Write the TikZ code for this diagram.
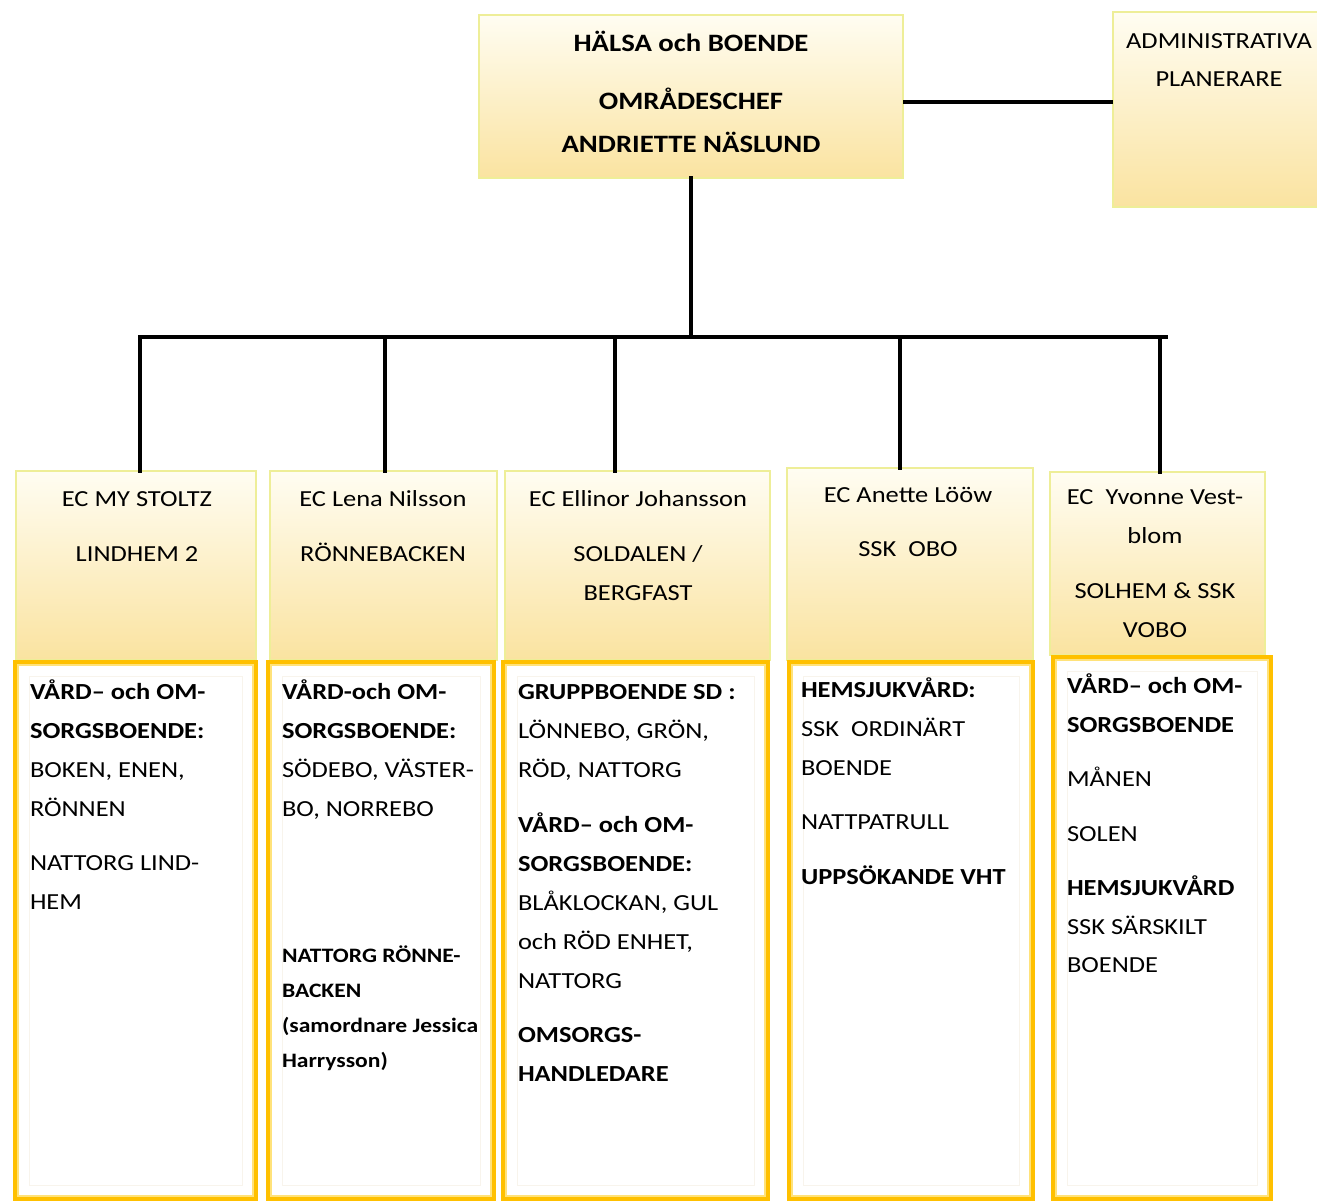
\documentclass[tikz,border=0pt]{standalone}
\usepackage{fontspec}
\setmainfont[FakeStretch=1.15]{Carlito}
\definecolor{hdrtop}{HTML}{FFFDF2}
\definecolor{hdrbot}{HTML}{FAE3A0}
\definecolor{hdredge}{HTML}{EEEE98}
\definecolor{gold}{HTML}{FFC000}
\definecolor{goldin}{HTML}{FFE27A}
\definecolor{faint}{HTML}{F8F4EC}
\newcommand\mybf[1]{\textbf{#1}}
\begin{document}
\begin{tikzpicture}[x=1pt,y=-1pt,
  ybox/.style={rectangle, draw=hdredge, line width=2pt, top color=hdrtop, bottom color=hdrbot, inner sep=0, outer sep=0},
  wbox/.style={rectangle, draw=gold, line width=4pt, fill=white, inner sep=0, outer sep=0},
  inline/.style={draw=goldin, line width=2pt},
  faintline/.style={draw=faint, line width=1pt},
  conn/.style={line width=4.5pt, draw=black, line cap=rect},
  txt/.style={inner sep=0, outer sep=0, font=\fontsize{23}{39}\selectfont},
  ltxt/.style={txt, anchor=north west, align=left},
  ctxt/.style={txt, anchor=north, align=center}]
\useasboundingbox (0,0) rectangle (1317,1203);
\fill[white] (0,0) rectangle (1317,1203);

% top boxes
\node[ybox, minimum width=424, minimum height=163] (top) at (691,96.5) {};
\node[ybox, minimum width=212, minimum height=195] (adm) at (1219,109.5) {};

% header boxes
\node[ybox, minimum width=240, minimum height=189] (h1) at (136,565.5) {};
\node[ybox, minimum width=227, minimum height=189] (h2) at (383.5,565.5) {};
\node[ybox, minimum width=265, minimum height=189] (h3) at (637.5,565.5) {};
\node[ybox, minimum width=246, minimum height=192] (h4) at (910,564) {};
\node[ybox, minimum width=215, minimum height=183] (h5) at (1157.5,563.5) {};

% lower boxes
\node[wbox, minimum width=241, minimum height=537] (l1) at (135.5,930.5) {};
\node[wbox, minimum width=226, minimum height=537] (l2) at (381,930.5) {};
\node[wbox, minimum width=265, minimum height=537] (l3) at (635.5,930.5) {};
\node[wbox, minimum width=244, minimum height=537] (l4) at (911,930.5) {};
\node[wbox, minimum width=218, minimum height=542] (l5) at (1162,928) {};
\foreach \b in {l1,l2,l3,l4,l5}{
  \draw[inline] ([shift={(3,3)}]\b.north west) rectangle ([shift={(-3,-3)}]\b.south east);
  \draw[faintline] ([shift={(14,14)}]\b.north west) rectangle ([shift={(-14,-14)}]\b.south east);
}

% connectors
\coordinate (busL) at (140,337);
\coordinate (busR) at (1166,337);
\coordinate (d1) at (140,337);
\coordinate (d2) at (385,337);
\coordinate (d3) at (615,337);
\coordinate (d4) at (900,337);
\coordinate (d5) at (1160,337);
\draw[conn] (top.south) -- (top.south |- busL);
\draw[conn] (busL) -- (busR);
\draw[conn] (d1) -- (d1 |- h1.north);
\draw[conn] (d2) -- (d2 |- h2.north);
\draw[conn] (d3) -- (d3 |- h3.north);
\draw[conn] (d4) -- (d4 |- h4.north);
\draw[conn] (d5) -- (d5 |- h5.north);
\draw[conn, line cap=butt] ([yshift=-5.5pt]top.east) -- ([yshift=-5.5pt]top.east -| adm.west);

% texts
\node[ctxt, font=\fontsize{25}{43}\selectfont\bfseries] (ttop) at (691,21)
  {\strut HÄLSA och BOENDE\\[15pt] OMRÅDESCHEF\\ ANDRIETTE NÄSLUND};
\node[ctxt, font=\fontsize{23}{38}\selectfont] (tadm) at (1219,22)
  {\strut ADMINISTRATIVA\\ PLANERARE};

\node[ctxt] (th1) at (137,479) {\strut EC MY STOLTZ\\[16pt] LINDHEM 2};
\node[ctxt] (th2) at (383,479) {\strut EC Lena Nilsson\\[16pt] RÖNNEBACKEN};
\node[ctxt] (th3) at (638,479) {\strut EC Ellinor Johansson\\[16pt] SOLDALEN /\\ BERGFAST};
\node[ctxt] (th4) at (908,475) {\strut EC Anette Lööw\\[15pt] SSK\ \ OBO};
\node[ctxt] (th5) at (1155,477) {\strut EC\ \ Yvonne Vest-\\ blom\\[16pt] SOLHEM \& SSK\\ VOBO};

\node[ltxt] (tl1) at (30,672) {\strut\mybf{VÅRD– och OM-}\\ \mybf{SORGSBOENDE:}\\ BOKEN, ENEN,\\ RÖNNEN\\[15pt] NATTORG LIND-\\ HEM};
\node[ltxt] (tl2) at (282,672) {\strut\mybf{VÅRD-och OM-}\\ \mybf{SORGSBOENDE:}\\ SÖDEBO, VÄSTER-\\ BO, NORREBO};
\node[ltxt, font=\fontsize{20.5}{35}\selectfont\bfseries] (tl2b) at (282,938)
  {\strut NATTORG RÖNNE-\\ BACKEN\\ (samordnare Jessica\\ Harrysson)};
\node[ltxt] (tl3) at (518,672) {\strut\mybf{GRUPPBOENDE SD :}\\ LÖNNEBO, GRÖN,\\ RÖD, NATTORG\\[16pt] \mybf{VÅRD– och OM-}\\ \mybf{SORGSBOENDE:}\\ BLÅKLOCKAN, GUL\\ och RÖD ENHET,\\ NATTORG\\[15pt] \mybf{OMSORGS-}\\ \mybf{HANDLEDARE}};
\node[ltxt] (tl4) at (801,670) {\strut\mybf{HEMSJUKVÅRD:}\\ SSK\ \ ORDINÄRT\\ BOENDE\\[15pt] NATTPATRULL\\[16pt] \mybf{UPPSÖKANDE VHT}};
\node[ltxt, font=\fontsize{23}{38.5}\selectfont] (tl5) at (1067,667) {\strut\mybf{VÅRD– och OM-}\\ \mybf{SORGSBOENDE}\\[16pt] MÅNEN\\[16pt] SOLEN\\[16pt] \mybf{HEMSJUKVÅRD}\\ SSK SÄRSKILT\\ BOENDE};
\end{tikzpicture}
\end{document}
